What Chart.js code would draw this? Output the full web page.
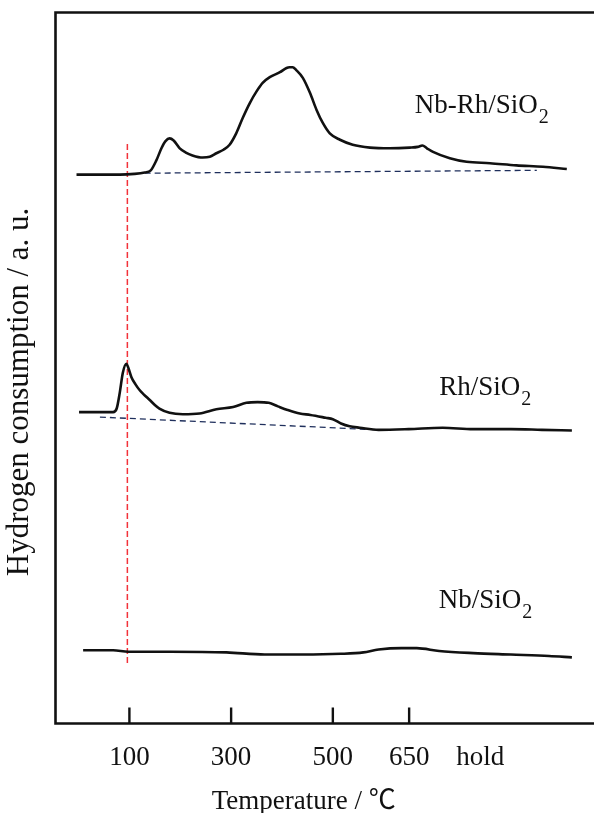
<!DOCTYPE html>
<html>
<head>
<meta charset="utf-8">
<script src="https://cdn.jsdelivr.net/npm/chart.js@4/dist/chart.umd.min.js"></script>
<style>
html,body{margin:0;padding:0;background:#fff;}
#wrap{width:594px;height:813px;}
</style>
</head>
<body>
<div id="wrap"><canvas id="c" width="594" height="813"></canvas></div>
<script>
// ---- data (temperature in °C along the TPR axis, signal in a.u.) ----
const nbRhT = [-4,41,81,110,130,142,153,163,171,179,187,199,211,224,244,258,271,285,297,310,323,337,350,362,376,396,409,415,421,428,441,455,468,480,494,514,539,573,612,651,667,676,685,697,730,763,809,861,913,960];
const nbRhV = [77.2,77.2,77.2,77.3,77.5,77.8,79.2,80.9,81.9,82.3,82.0,80.9,80.3,79.9,79.6,79.7,80.2,80.7,81.4,83.0,85.2,87.3,88.9,90.1,90.9,91.6,92.2,92.3,92.3,91.9,90.8,88.7,86.3,84.5,83.0,82.1,81.4,81.0,80.9,81.0,81.1,81.3,80.9,80.4,79.5,79.0,78.8,78.5,78.3,78.0];

const rhT = [1,41,68,75,81,87,94,98,104,112,120,128,140,150,159,179,205,238,271,304,330,352,374,392,411,435,456,486,500,516,533,553,590,649,716,776,850,911,970];
const rhV = [43.8,43.8,43.8,44.3,46.5,49.3,50.6,50.0,48.7,47.7,46.9,46.3,45.5,44.8,44.3,43.7,43.5,43.6,44.2,44.5,45.1,45.2,45.1,44.6,44.1,43.6,43.4,43.0,42.8,42.2,41.8,41.6,41.3,41.4,41.6,41.4,41.4,41.3,41.2];

const nbT = [9,68,98,180,291,366,441,516,560,590,635,665,709,776,850,925,970];
const nbV = [10.3,10.3,10.1,10.1,10.0,9.7,9.7,9.8,10.0,10.4,10.6,10.6,10.2,9.9,9.7,9.5,9.3];

const nbRhBaseT = [130,901];
const nbRhBaseV = [77.4,77.8];
const rhBaseT = [42,590];
const rhBaseV = [43.1,41.3];

const refLineT = [96,96];
const refLineV = [81.5,8.4];

const tickValues = [100,300,500,650,790];
const tickLabels = ['100','300','500','650','hold'];
const tickMarkValues = [100,300,500,650];

const seriesNames = ['Nb-Rh/SiO','Rh/SiO','Nb/SiO'];
const seriesSub = ['2','2','2'];
const labelT = [661,709,708];
const labelV = [85.9,46.2,16.2];

const xTitle = 'Temperature / ℃';
const yTitle = 'Hydrogen consumption / a. u.';

// ---- build ----
const FAM = "'Liberation Serif','Noto Sans CJK JP',serif";
const pts = (xs, ys) => xs.map((x,i)=>({x:x,y:ys[i]}));

const curve = (label, xs, ys) => ({
  label, data: pts(xs,ys), borderColor:'#111', borderWidth:2.6,
  pointRadius:0, fill:false, cubicInterpolationMode:'monotone', clip:false
});
const dashed = (label, xs, ys, color, dash, w) => ({
  label, data: pts(xs,ys), borderColor:color, borderWidth:w, borderDash:dash,
  pointRadius:0, fill:false, tension:0, clip:false
});

const framePlugin = {
  id:'frame',
  afterDraw(chart){
    const {ctx, chartArea:a, scales:{x,y}} = chart;
    const W = chart.width;
    ctx.save();
    ctx.strokeStyle = '#111';
    ctx.lineWidth = 2.6;
    ctx.lineCap = 'butt';
    ctx.beginPath();
    ctx.moveTo(W, a.top); ctx.lineTo(a.left, a.top); ctx.lineTo(a.left, a.bottom); ctx.lineTo(W, a.bottom);
    ctx.stroke();
    ctx.lineWidth = 2.4;
    tickMarkValues.forEach(v=>{
      const px = x.getPixelForValue(v);
      ctx.beginPath(); ctx.moveTo(px, a.bottom); ctx.lineTo(px, a.bottom-16); ctx.stroke();
    });
    // series labels
    ctx.fillStyle = '#111';
    ctx.textBaseline = 'alphabetic';
    ctx.textAlign = 'left';
    seriesNames.forEach((n,i)=>{
      const px = x.getPixelForValue(labelT[i]);
      const py = y.getPixelForValue(labelV[i]);
      ctx.font = "27px " + FAM;
      ctx.fillText(n, px, py);
      const w = ctx.measureText(n).width;
      ctx.font = "20px " + FAM;
      ctx.fillText(seriesSub[i], px + w + 1, py + 10);
    });
    // y axis title
    ctx.font = "31px " + FAM;
    ctx.textAlign = 'center';
    ctx.textBaseline = 'middle';
    ctx.translate(20, 392);
    ctx.rotate(-Math.PI/2);
    ctx.fillText(yTitle, 0, 0);
    ctx.restore();
  }
};

new Chart(document.getElementById('c'), {
  type:'line',
  data:{ datasets:[
    curve('Nb-Rh/SiO2', nbRhT, nbRhV),
    curve('Rh/SiO2', rhT, rhV),
    curve('Nb/SiO2', nbT, nbV),
    dashed('Nb-Rh baseline', nbRhBaseT, nbRhBaseV, '#1f2f5c', [6,4], 1.3),
    dashed('Rh baseline', rhBaseT, rhBaseV, '#1f2f5c', [6,4], 1.3),
    dashed('100 °C', refLineT, refLineV, '#f2323a', [6,3], 1.5)
  ]},
  options:{
    responsive:false, animation:false, devicePixelRatio:1,
    layout:{ padding:{ top:12.5, left:55.5, right:42, bottom:0 } },
    plugins:{ legend:{display:false}, tooltip:{enabled:false} },
    scales:{
      x:{
        type:'linear', min:-45.3, max:930.9,
        grid:{ display:false, drawTicks:false },
        border:{ display:false },
        afterBuildTicks(scale){ scale.ticks = tickValues.map(v=>({value:v})); },
        ticks:{
          autoSkip:false, maxRotation:0, padding:20.5, color:'#111',
          font:{ family:FAM, size:27, lineHeight:'27px' },
          callback:(v,i)=>tickLabels[i]
        },
        title:{
          display:true, text:xTitle, color:'#111',
          font:{ family:FAM, size:27, lineHeight:'21px' },
          padding:{ top:0, bottom:0.5 }
        }
      },
      y:{
        type:'linear', min:0, max:100, display:false
      }
    }
  },
  plugins:[framePlugin]
});
</script>
</body>
</html>
